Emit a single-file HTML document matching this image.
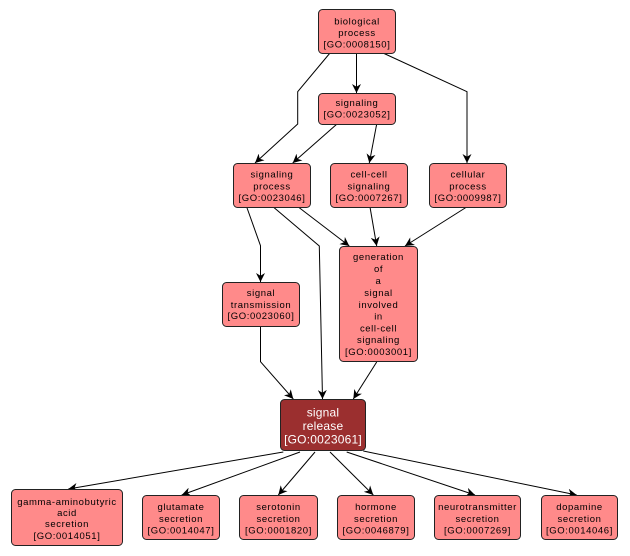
<!DOCTYPE html>
<html>
<head>
<meta charset="utf-8">
<style>
html,body{margin:0;padding:0;background:#fff;}
svg{display:block;}
text{font-family:"Liberation Sans",Arial,sans-serif;font-size:9.5px;letter-spacing:0.6px;fill:#000;text-anchor:middle;}
.n{fill:#ff8a8a;stroke:#222;stroke-width:1;}
.r{fill:#9b2f2f;stroke:#222;stroke-width:1;}
.rt{fill:#fff;font-size:12px;letter-spacing:0.2px;}
.e{fill:none;stroke:#000;stroke-width:1;}
</style>
</head>
<body>
<svg width="630" height="556" viewBox="0 0 630 556" xmlns="http://www.w3.org/2000/svg">
<defs>
<marker id="a" viewBox="0 0 10 10" refX="10" refY="5" markerWidth="9" markerHeight="9" markerUnits="userSpaceOnUse" orient="auto">
<path d="M0,0 L10,5 L0,10 L3,5 z" fill="#000"/>
</marker>
</defs>

<!-- edges -->
<path class="e" marker-end="url(#a)" d="M356.5,53 L356.5,93"/>
<path class="e" marker-end="url(#a)" d="M330,53 L297.7,91.7 L297.7,124 L255,163"/>
<path class="e" marker-end="url(#a)" d="M383,53 L467,91.7 L467,163"/>
<path class="e" marker-end="url(#a)" d="M337,124 L292.7,163"/>
<path class="e" marker-end="url(#a)" d="M376.7,124 L369.3,163"/>
<path class="e" marker-end="url(#a)" d="M246.7,207 L260.5,245.7 L260.5,282"/>
<path class="e" marker-end="url(#a)" d="M273.3,207 L319.3,246 L322.5,399"/>
<path class="e" marker-end="url(#a)" d="M298.3,207 L349.3,246"/>
<path class="e" marker-end="url(#a)" d="M370,207 L376.7,246"/>
<path class="e" marker-end="url(#a)" d="M466.7,207 L405,246"/>
<path class="e" marker-end="url(#a)" d="M260.5,326 L260.5,361.7 L293.3,399"/>
<path class="e" marker-end="url(#a)" d="M376.7,362 L353.3,399"/>
<path class="e" marker-end="url(#a)" d="M283.3,452 L68.3,489"/>
<path class="e" marker-end="url(#a)" d="M300,452 L181.7,495"/>
<path class="e" marker-end="url(#a)" d="M315,452 L278.3,495"/>
<path class="e" marker-end="url(#a)" d="M330,452 L373.3,495"/>
<path class="e" marker-end="url(#a)" d="M346.7,452 L475,495"/>
<path class="e" marker-end="url(#a)" d="M363.3,451 L576.7,495"/>

<!-- biological process -->
<rect class="n" x="318.5" y="9.5" width="77" height="44" rx="4"/>
<text x="357" y="24.5">biological</text>
<text x="357" y="36">process</text>
<text x="357" y="47.5">[GO:0008150]</text>

<!-- signaling -->
<rect class="n" x="318.5" y="93.5" width="77" height="31" rx="4"/>
<text x="357" y="105.8">signaling</text>
<text x="357" y="117.6">[GO:0023052]</text>

<!-- signaling process -->
<rect class="n" x="233.5" y="163.5" width="77" height="44" rx="4"/>
<text x="272" y="177.5">signaling</text>
<text x="272" y="189.3">process</text>
<text x="272" y="200.8">[GO:0023046]</text>

<!-- cell-cell signaling -->
<rect class="n" x="330.5" y="163.5" width="77" height="44" rx="4"/>
<text x="369" y="177.5">cell-cell</text>
<text x="369" y="189.3">signaling</text>
<text x="369" y="200.8">[GO:0007267]</text>

<!-- cellular process -->
<rect class="n" x="429.5" y="163.5" width="77" height="44" rx="4"/>
<text x="468" y="177.5">cellular</text>
<text x="468" y="189.3">process</text>
<text x="468" y="200.8">[GO:0009987]</text>

<!-- signal transmission -->
<rect class="n" x="222.5" y="282.5" width="77" height="44" rx="4"/>
<text x="261" y="296.2">signal</text>
<text x="261" y="307.8">transmission</text>
<text x="261" y="319.2">[GO:0023060]</text>

<!-- generation -->
<rect class="n" x="339.5" y="246.5" width="78" height="115" rx="4"/>
<text x="378.5" y="260.2">generation</text>
<text x="378.5" y="272.2">of</text>
<text x="378.5" y="284.2">a</text>
<text x="378.5" y="296.2">signal</text>
<text x="378.5" y="308.2">involved</text>
<text x="378.5" y="319.5">in</text>
<text x="378.5" y="331.5">cell-cell</text>
<text x="378.5" y="343.2">signaling</text>
<text x="378.5" y="355.2">[GO:0003001]</text>

<!-- signal release -->
<rect class="r" x="280.5" y="399.5" width="85" height="51" rx="4"/>
<text class="rt" x="323" y="416.5">signal</text>
<text class="rt" x="323" y="430">release</text>
<text class="rt" x="323" y="443.5">[GO:0023061]</text>

<!-- bottom row -->
<rect class="n" x="11.5" y="489.5" width="111" height="56" rx="4"/>
<text x="67" y="505.2">gamma-aminobutyric</text>
<text x="67" y="516.2">acid</text>
<text x="67" y="527">secretion</text>
<text x="67" y="539.2">[GO:0014051]</text>

<rect class="n" x="142.5" y="495.5" width="77" height="44" rx="4"/>
<text x="181" y="510.2">glutamate</text>
<text x="181" y="522.2">secretion</text>
<text x="181" y="533.5">[GO:0014047]</text>

<rect class="n" x="239.5" y="495.5" width="78" height="44" rx="4"/>
<text x="278.5" y="510.2">serotonin</text>
<text x="278.5" y="522.2">secretion</text>
<text x="278.5" y="533.5">[GO:0001820]</text>

<rect class="n" x="337.5" y="495.5" width="77" height="44" rx="4"/>
<text x="376" y="510.2">hormone</text>
<text x="376" y="522.2">secretion</text>
<text x="376" y="533.5">[GO:0046879]</text>

<rect class="n" x="434.5" y="495.5" width="86" height="44" rx="4"/>
<text x="477.5" y="510.2">neurotransmitter</text>
<text x="477.5" y="522.2">secretion</text>
<text x="477.5" y="533.5">[GO:0007269]</text>

<rect class="n" x="541.5" y="495.5" width="76" height="44" rx="4"/>
<text x="579.5" y="510.2">dopamine</text>
<text x="579.5" y="522.2">secretion</text>
<text x="579.5" y="533.5">[GO:0014046]</text>
</svg>
</body>
</html>
